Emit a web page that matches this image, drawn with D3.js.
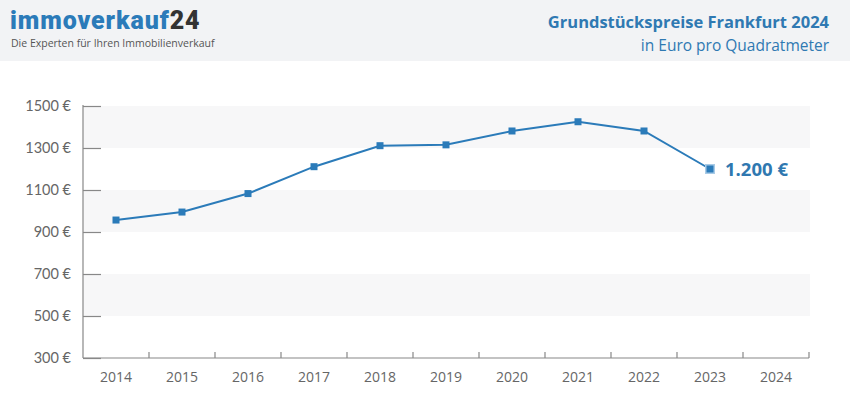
<!DOCTYPE html>
<html><head><meta charset="utf-8">
<script src="https://cdn.jsdelivr.net/npm/d3@7/dist/d3.min.js"></script>
<style>body{margin:0;background:#fff}svg{display:block}</style>
</head><body>
<script>
const years = ["2014","2015","2016","2017","2018","2019","2020","2021","2022","2023","2024"];
const priceYears = ["2014","2015","2016","2017","2018","2019","2020","2021","2022","2023"];
const prices = [957, 995, 1083, 1211, 1311, 1315, 1381, 1425, 1381, 1200];
const yTicks = [300, 500, 700, 900, 1100, 1300, 1500];
const bands = [[1300,1500],[900,1100],[500,700]];
const titleText = "Grundstückspreise Frankfurt 2024";
const subtitleText = "in Euro pro Quadratmeter";
const lastLabel = "1.200 €";

const W = 850, H = 417;
const svg = d3.select("body").append("svg").attr("width", W).attr("height", H);

// header
svg.append("rect").attr("x",0).attr("y",0).attr("width",W).attr("height",61).attr("fill","#f2f3f5");
const logo = svg.append("text").attr("x",10).attr("y",29).attr("font-family","Roboto, sans-serif")
  .attr("font-weight","900").attr("font-size",25).attr("letter-spacing","0.9");
logo.append("tspan").attr("fill","#2b7bb9").text("immoverkauf");
logo.append("tspan").attr("fill","#333").text("24");
svg.append("text").attr("x",11).attr("y",47).attr("font-family","'Open Sans', sans-serif")
  .attr("font-size",10.5).attr("fill","#555").text("Die Experten für Ihren Immobilienverkauf");
svg.append("text").attr("x",829).attr("y",28).attr("text-anchor","end").attr("font-family","'Open Sans', sans-serif")
  .attr("font-weight","bold").attr("font-size",16.5).attr("fill","#2f79b2").text(titleText);
svg.append("text").attr("x",829).attr("y",51).attr("text-anchor","end").attr("font-family","'Open Sans', sans-serif")
  .attr("font-size",15.5).attr("fill","#2f79b2").text(subtitleText);

const x0 = 83, x1 = 809, yTop = 106, yBot = 358;
const x = d3.scaleBand().domain(years).range([x0, x1]);
const y = d3.scaleLinear().domain([300, 1500]).range([yBot, yTop]);

// bands
svg.selectAll(".band").data(bands).enter().append("rect")
  .attr("x", x0).attr("width", x1 - x0 + 1)
  .attr("y", d => y(d[1])).attr("height", d => y(d[0]) - y(d[1]))
  .attr("fill", "#f7f7f8");

// y axis
const yAxis = svg.append("g").attr("transform", `translate(${x0},0)`)
  .call(d3.axisRight(y).tickValues(yTicks).tickSize(18).tickFormat(""));
yAxis.select(".domain").remove();
yAxis.selectAll("line").attr("stroke","#888").attr("stroke-width",1.2);
svg.append("line").attr("x1",x0).attr("x2",x0).attr("y1",yTop-1).attr("y2",yBot).attr("stroke","#888").attr("stroke-width",1.2);
svg.selectAll(".ylab").data(yTicks).enter().append("text")
  .attr("x", 71).attr("y", d => y(d) + 5).attr("text-anchor","end")
  .attr("font-family","Lato, sans-serif").attr("font-size",14.5).attr("fill","#666")
  .text(d => d + " €");

// x axis
svg.append("line").attr("x1",x0).attr("x2",x1).attr("y1",yBot).attr("y2",yBot).attr("stroke","#888").attr("stroke-width",1.2);
const boundaries = years.slice(1).map(d => x(d)).concat([x1]);
svg.selectAll(".xtick").data(boundaries).enter().append("line")
  .attr("x1", d => d).attr("x2", d => d).attr("y1", yBot).attr("y2", yBot - 6)
  .attr("stroke","#888").attr("stroke-width",1.2);
svg.selectAll(".xlab").data(years).enter().append("text")
  .attr("x", d => x(d) + x.bandwidth()/2).attr("y", 382).attr("text-anchor","middle")
  .attr("font-family","'Open Sans', sans-serif").attr("font-size",14).attr("fill","#666")
  .text(d => d);

// line
const pts = priceYears.map((d,i) => [x(d) + x.bandwidth()/2, y(prices[i])]);
svg.append("path").attr("d", d3.line()(pts)).attr("fill","none").attr("stroke","#2b7bb9").attr("stroke-width",2);
const last = pts[pts.length-1];
svg.append("rect").attr("x", last[0]-5).attr("y", last[1]-5).attr("width",10).attr("height",10).attr("fill","#a9cbe6");
svg.selectAll(".pt").data(pts).enter().append("rect")
  .attr("x", d => d[0]-3.5).attr("y", d => d[1]-3.5).attr("width",7).attr("height",7).attr("fill","#2b7bb9");
svg.append("text").attr("x", last[0]+15).attr("y", last[1]+7)
  .attr("font-family","'Open Sans', sans-serif").attr("font-weight","bold").attr("font-size",18.5).attr("fill","#2f78b0")
  .text(lastLabel);
</script>
</body></html>
